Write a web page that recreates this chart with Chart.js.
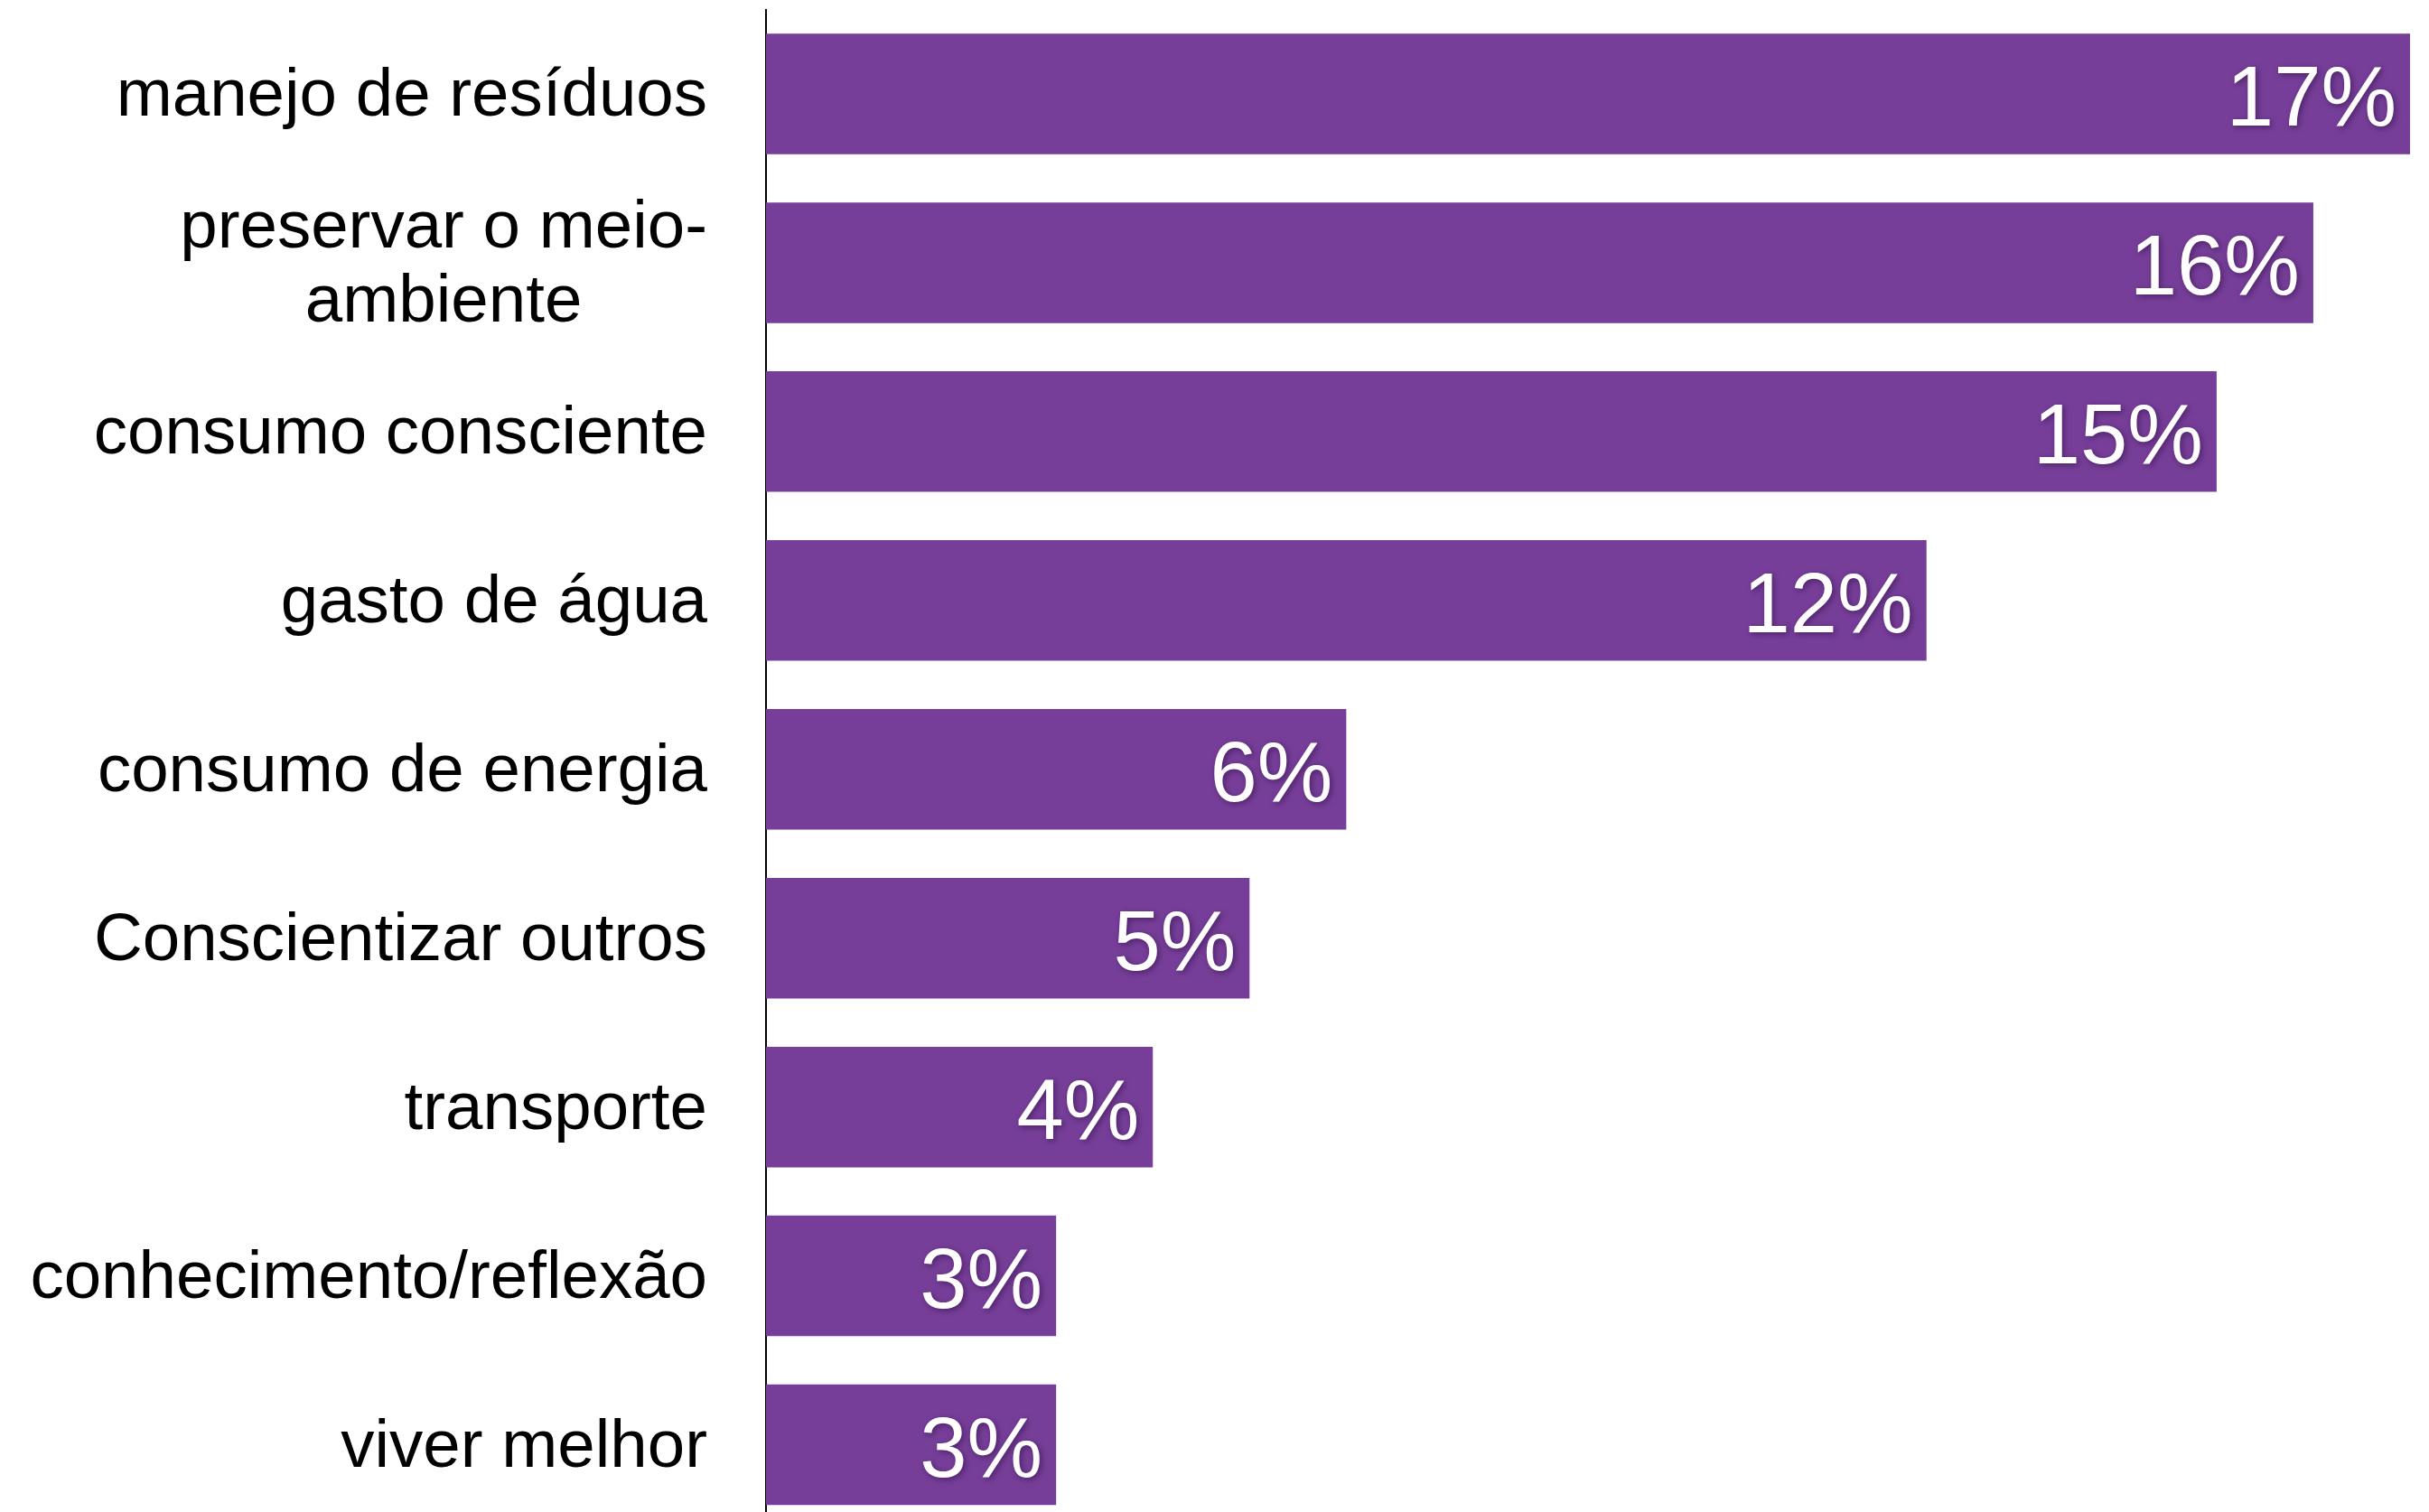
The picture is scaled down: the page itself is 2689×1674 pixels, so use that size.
<!DOCTYPE html>
<html>
<head>
<meta charset="utf-8">
<script src="https://cdn.jsdelivr.net/npm/chart.js@4"></script>
<style>
html, body { margin: 0; padding: 0; overflow: hidden; background: #ffffff; }
canvas { display: block; }
</style>
</head>
<body>
<canvas id="c" width="2689" height="1693"></canvas>
<script>
const categories = [
  ['manejo de resíduos'],
  ['preservar o meio-', 'ambiente'],
  ['consumo consciente'],
  ['gasto de água'],
  ['consumo de energia'],
  ['Conscientizar outros'],
  ['transporte'],
  ['conhecimento/reflexão'],
  ['viver melhor']
];
const values = [17, 16, 15, 12, 6, 5, 4, 3, 3];
const valueLabels = ['17%', '16%', '15%', '12%', '6%', '5%', '4%', '3%', '3%'];

const FONT = '"Liberation Sans", Arial, sans-serif';

const labelPlugin = {
  id: 'customLabels',
  afterDraw(chart) {
    const ctx = chart.ctx;
    const yScale = chart.scales.y;
    ctx.save();
    ctx.font = '74.5px ' + FONT;
    ctx.fillStyle = '#000000';
    ctx.textBaseline = 'alphabetic';
    ctx.textAlign = 'center';
    const rightX = 783;
    const lineH = 82;
    categories.forEach((lines, i) => {
      const cy = yScale.getPixelForValue(i);
      let widest = 0;
      lines.forEach(l => { widest = Math.max(widest, ctx.measureText(l).width); });
      const cx = rightX - widest / 2;
      const n = lines.length;
      lines.forEach((l, j) => {
        const by = cy + 24 + (j - (n - 1) / 2) * lineH;
        ctx.fillText(l, cx, by);
      });
    });
    ctx.restore();
  },
  afterDatasetsDraw(chart) {
    const ctx = chart.ctx;
    const meta = chart.getDatasetMeta(0);
    ctx.save();
    ctx.font = '94px ' + FONT;
    ctx.fillStyle = '#ffffff';
    ctx.textAlign = 'right';
    ctx.textBaseline = 'alphabetic';
    ctx.shadowColor = 'rgba(40,10,60,0.55)';
    ctx.shadowBlur = 6;
    ctx.shadowOffsetX = 2;
    ctx.shadowOffsetY = 2;
    meta.data.forEach((bar, i) => {
      ctx.fillText(valueLabels[i], bar.x - 15, bar.y + 35);
    });
    ctx.restore();
  }
};

new Chart(document.getElementById('c'), {
  type: 'bar',
  data: {
    labels: categories,
    datasets: [{
      data: values,
      backgroundColor: '#763E98',
      borderWidth: 0,
      barPercentage: 0.714,
      categoryPercentage: 1.0
    }]
  },
  options: {
    indexAxis: 'y',
    responsive: false,
    animation: false,
    events: [],
    layout: { padding: { top: 10.5, right: 21, bottom: 0, left: 0 } },
    plugins: {
      legend: { display: false },
      tooltip: { enabled: false },
      title: { display: false }
    },
    scales: {
      x: {
        display: false,
        min: 0,
        max: 17
      },
      y: {
        display: true,
        offset: true,
        grid: { display: false, drawTicks: false },
        border: { display: true, color: '#000000', width: 2 },
        ticks: { display: false },
        afterFit(scale) { scale.width = 848; }
      }
    }
  },
  plugins: [labelPlugin]
});
</script>
</body>
</html>
